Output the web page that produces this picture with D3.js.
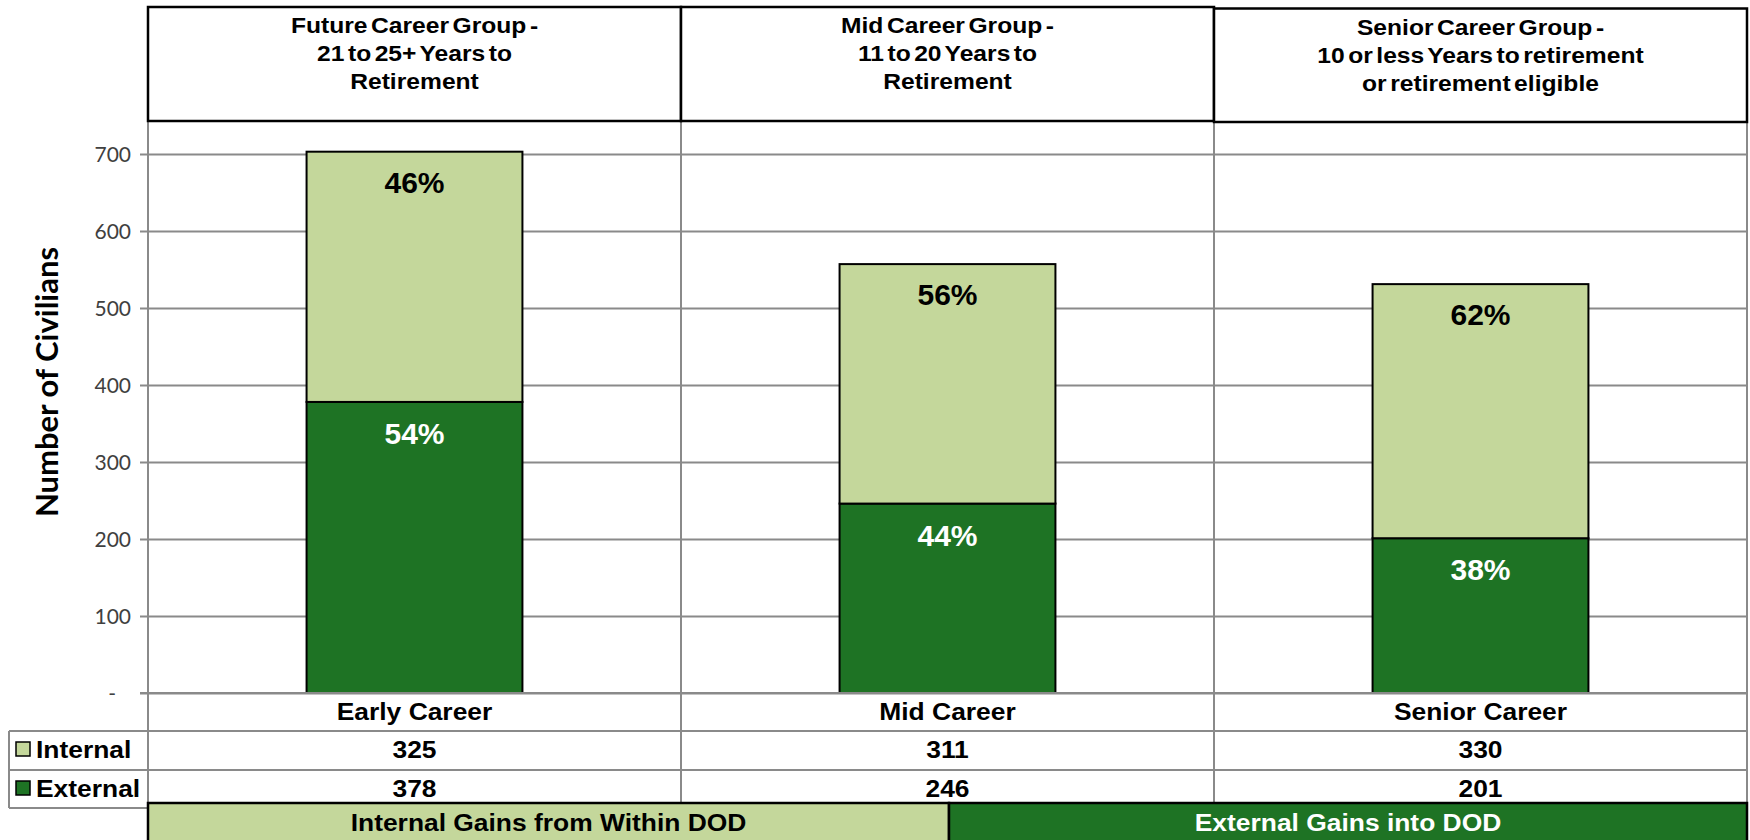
<!DOCTYPE html>
<html>
<head>
<meta charset="utf-8">
<script src="https://cdn.jsdelivr.net/npm/d3@7"></script>
<style>
  html, body { margin: 0; padding: 0; background: #fff; }
  svg { display: block; }
</style>
</head>
<body>
<svg id="chart" width="1750" height="840"></svg>
<script>
// ---- Data ----
const categories = ["Early Career", "Mid Career", "Senior Career"];
const groupHeaders = [
  ["Future Career Group -", "21 to 25+ Years to", "Retirement"],
  ["Mid Career Group -", "11 to 20 Years to", "Retirement"],
  ["Senior Career Group -", "10 or less Years to retirement", "or retirement eligible"]
];
const internalValues = [325, 311, 330];
const externalValues = [378, 246, 201];
const seriesNames = ["Internal", "External"];
const yTicks = [0, 100, 200, 300, 400, 500, 600, 700];
const bottomLabels = ["Internal Gains from Within DOD", "External Gains into DOD"];

// ---- Styles ----
const LIGHT = "#C4D79B";
const DARK = "#1E7324";
const GRID = "#8a8a8a";
const ARIAL = "'Liberation Sans', Arial, sans-serif";
const CAL = "Lato, 'Open Sans', sans-serif";

const svg = d3.select("#chart");

const left = 148, right = 1747;
const x = d3.scaleBand().domain(categories).range([left, right]).padding(0);
const y = d3.scaleLinear().domain([0, 700]).range([693, 154]);
const barFrac = 0.405;
const bw = x.bandwidth() * barFrac;
const bx = c => x(c) + (x.bandwidth() - bw) / 2;

function txt(g, tx, ty, s, size, opts = {}) {
  const t = g.append("text")
    .attr("transform", `translate(${tx},${ty}) scale(${opts.sx || 1},1)`)
    .attr("text-anchor", opts.anchor || "middle")
    .style("font-family", opts.family || ARIAL)
    .style("font-size", size + "px")
    .style("font-weight", opts.weight || "bold")
    .attr("fill", opts.fill || "#000")
    .text(s);
  if (opts.ws !== undefined) t.style("word-spacing", opts.ws + "px");
  return t;
}

// ---- Gridlines & y axis ----
const yAxis = d3.axisLeft(y).tickValues(yTicks).tickSize(right - 140)
  .tickFormat(d => d === 0 ? "-" : d3.format("d")(d));
const ag = svg.append("g").attr("transform", `translate(${right},0)`).call(yAxis);
ag.select(".domain").remove();
ag.selectAll(".tick line").attr("stroke", GRID).attr("stroke-width", 2);
ag.selectAll(".tick text")
  .attr("x", -(right - 131))
  .attr("dy", "0.35em")
  .style("font-family", CAL).style("font-size", "21px").attr("fill", "#404040");
ag.selectAll(".tick text").filter(d => d === 0).attr("x", -(right - 116));

// vertical table / plot lines
const vx = [left, x(categories[1]), x(categories[2]), right];
svg.selectAll("line.v").data(vx).join("line")
  .attr("x1", d => d).attr("x2", d => d)
  .attr("y1", 121).attr("y2", 808)
  .attr("stroke", GRID).attr("stroke-width", 2);

// ---- Bars ----
const stackData = categories.map((c, i) => ({ c, ext: externalValues[i], int: internalValues[i] }));
const bars = svg.append("g");
bars.selectAll("rect.ext").data(stackData).join("rect")
  .attr("x", d => bx(d.c)).attr("width", bw)
  .attr("y", d => y(d.ext)).attr("height", d => y(0) - y(d.ext))
  .attr("fill", DARK).attr("stroke", "#000").attr("stroke-width", 2);
bars.selectAll("rect.int").data(stackData).join("rect")
  .attr("x", d => bx(d.c)).attr("width", bw)
  .attr("y", d => y(d.ext + d.int)).attr("height", d => y(d.ext) - y(d.ext + d.int))
  .attr("fill", LIGHT).attr("stroke", "#000").attr("stroke-width", 2);

// percent labels
stackData.forEach(d => {
  const tot = d.ext + d.int;
  const cx = x(d.c) + x.bandwidth() / 2;
  txt(svg, cx, y(tot) + 41, Math.round(d.int / tot * 100) + "%", 30, { fill: "#000" });
  txt(svg, cx, y(d.ext) + 42, Math.round(d.ext / tot * 100) + "%", 30, { fill: "#fff" });
});

// redraw zero line on top
svg.append("line").attr("x1", 140).attr("x2", right).attr("y1", y(0)).attr("y2", y(0))
  .attr("stroke", GRID).attr("stroke-width", 2);

// ---- Data table ----
[731, 770].forEach(yy => {
  svg.append("line").attr("x1", 9).attr("x2", right).attr("y1", yy).attr("y2", yy)
    .attr("stroke", GRID).attr("stroke-width", 2);
});
svg.append("line").attr("x1", 9).attr("x2", left).attr("y1", 808).attr("y2", 808)
  .attr("stroke", GRID).attr("stroke-width", 2);
svg.append("line").attr("x1", 9).attr("x2", 9).attr("y1", 731).attr("y2", 808)
  .attr("stroke", GRID).attr("stroke-width", 2);

categories.forEach((c, i) => {
  const cx = x(c) + x.bandwidth() / 2;
  txt(svg, cx, 720, c, 24, { sx: 1.1 });
  txt(svg, cx, 758, String(internalValues[i]), 24, { sx: 1.1 });
  txt(svg, cx, 797, String(externalValues[i]), 24, { sx: 1.1 });
});

// legend keys in table
[[LIGHT, 742, 758], [DARK, 781, 797]].forEach((k, i) => {
  svg.append("rect").attr("x", 16).attr("y", k[1]).attr("width", 14).attr("height", 14)
    .attr("fill", k[0]).attr("stroke", "#000").attr("stroke-width", 1.5);
  txt(svg, 36, k[2], seriesNames[i], 24, { anchor: "start", sx: 1.1 });
});

// ---- Header boxes ----
const hb = [
  { x0: 148, x1: 681, y0: 7, y1: 121 },
  { x0: 681, x1: 1214, y0: 7, y1: 121 },
  { x0: 1214, x1: 1747, y0: 8.5, y1: 122 }
];
groupHeaders.forEach((lines, i) => {
  const b = hb[i];
  svg.append("rect").attr("x", b.x0).attr("y", b.y0).attr("width", b.x1 - b.x0).attr("height", b.y1 - b.y0)
    .attr("fill", "#fff").attr("stroke", "#000").attr("stroke-width", 2.5);
  const cx = (b.x0 + b.x1) / 2;
  lines.forEach((l, j) => {
    txt(svg, cx, b.y0 + 26 + j * 28, l, 22, { sx: 1.12, ws: -3 });
  });
});

// ---- Bottom banner ----
const mid = 949;
const banners = [
  { x0: left, x1: mid, fill: LIGHT, tc: "#000" },
  { x0: mid, x1: right, fill: DARK, tc: "#fff" }
];
banners.forEach((b, i) => {
  svg.append("rect").attr("x", b.x0).attr("y", 803).attr("width", b.x1 - b.x0).attr("height", 40)
    .attr("fill", b.fill).attr("stroke", "#000").attr("stroke-width", 2.5);
  txt(svg, (b.x0 + b.x1) / 2, 831, bottomLabels[i], 24, { sx: 1.1, fill: b.tc });
});

// ---- Y axis title ----
svg.append("text")
  .attr("transform", "translate(58,382) rotate(-90)")
  .attr("text-anchor", "middle")
  .style("font-family", CAL).style("font-size", "31px").style("font-weight", "bold")
  .attr("fill", "#000")
  .text("Number of Civilians");
</script>
</body>
</html>
